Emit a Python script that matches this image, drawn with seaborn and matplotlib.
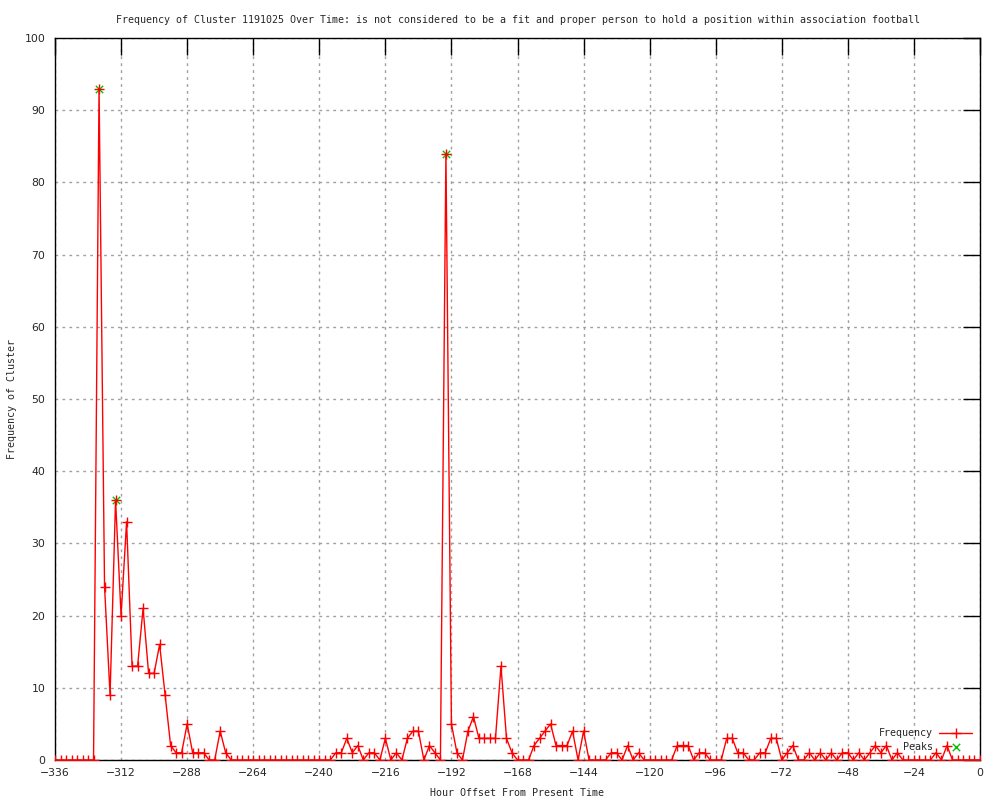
import matplotlib
matplotlib.use("Agg")
import matplotlib.pyplot as plt
import numpy as np
import pandas as pd
import seaborn as sns

# hour offsets, one sample every 2 hours
hours = np.arange(-336, 1, 2)

freq = [
    0, 0, 0, 0, 0, 0, 0, 0, 93, 24,
    9, 36, 20, 33, 13, 13, 21, 12, 12, 16,
    9, 2, 1, 1, 5, 1, 1, 1, 0, 0,
    4, 1, 0, 0, 0, 0, 0, 0, 0, 0,
    0, 0, 0, 0, 0, 0, 0, 0, 0, 0,
    0, 1, 1, 3, 1, 2, 0, 1, 1, 0,
    3, 0, 1, 0, 3, 4, 4, 0, 2, 1,
    0, 84, 5, 1, 0, 4, 6, 3, 3, 3,
    3, 13, 3, 1, 0, 0, 0, 2, 3, 4,
    5, 2, 2, 2, 4, 0, 4, 0, 0, 0,
    0, 1, 1, 0, 2, 0, 1, 0, 0, 0,
    0, 0, 0, 2, 2, 2, 0, 1, 1, 0,
    0, 0, 3, 3, 1, 1, 0, 0, 1, 1,
    3, 3, 0, 1, 2, 0, 0, 1, 0, 1,
    0, 1, 0, 1, 1, 0, 1, 0, 1, 2,
    1, 2, 0, 1, 0, 0, 0, 0, 0, 0,
    1, 0, 2, 0, 0, 0, 0, 0, 0,
]

peak_hours = [-320, -314, -194]
peak_values = [93, 36, 84]

x_ticks = list(range(-336, 1, 24))
y_ticks = list(range(0, 101, 10))

TITLE = ("Frequency of Cluster 1191025 Over Time: is not considered to be a fit "
         "and proper person to hold a position within association football")

MONO = ["DejaVu Sans Mono"]
TEXT_SIZE = 7.2


def main() -> None:
    sns.set_style("white")
    plt.rcParams["font.family"] = MONO

    df = pd.DataFrame({"hour": hours, "freq": freq})
    peaks = pd.DataFrame({"hour": peak_hours, "freq": peak_values})

    fig = plt.figure(figsize=(10, 8), dpi=100)
    ax = fig.add_axes([0.055, 0.05, 0.925, 0.9025])

    sns.lineplot(data=df, x="hour", y="freq", ax=ax, color="red", lw=1,
                 marker="+", markersize=6.5, markeredgewidth=1,
                 markeredgecolor="red", label="Frequency", zorder=3)
    sns.scatterplot(data=peaks, x="hour", y="freq", ax=ax, color="#00c000",
                    marker="x", s=28, linewidth=1, label="Peaks", zorder=2)

    ax.set_xlim(-336, 0)
    ax.set_ylim(0, 100)
    ax.set_xticks(x_ticks)
    ax.set_yticks(y_ticks)
    ax.grid(True, color="#a0a0a0", linestyle=(0, (2, 3)), linewidth=1)
    ax.tick_params(direction="in", length=12, width=1, top=True, right=True,
                   color="black")
    ax.tick_params(axis="x", pad=6)
    ax.tick_params(axis="y", pad=7)
    for lab in ax.get_xticklabels() + ax.get_yticklabels():
        lab.set_fontfamily("DejaVu Sans")
        lab.set_fontsize(7.8)
    for s in ax.spines.values():
        s.set_color("black")
        s.set_linewidth(1)

    ax.set_title(TITLE, fontsize=TEXT_SIZE, pad=11)
    ax.set_xlabel("Hour Offset From Present Time", fontsize=TEXT_SIZE, labelpad=7)
    ax.set_ylabel("Frequency of Cluster", fontsize=TEXT_SIZE, labelpad=5)

    ax.legend(loc="lower right", frameon=False, markerfirst=False,
              prop={"family": MONO, "size": TEXT_SIZE}, handlelength=3.3,
              labelspacing=0.35, borderaxespad=0.5, borderpad=0.3,
              handletextpad=0.6)

    fig.savefig("out.png", dpi=100)
    plt.close(fig)


if __name__ == "__main__":
    main()
